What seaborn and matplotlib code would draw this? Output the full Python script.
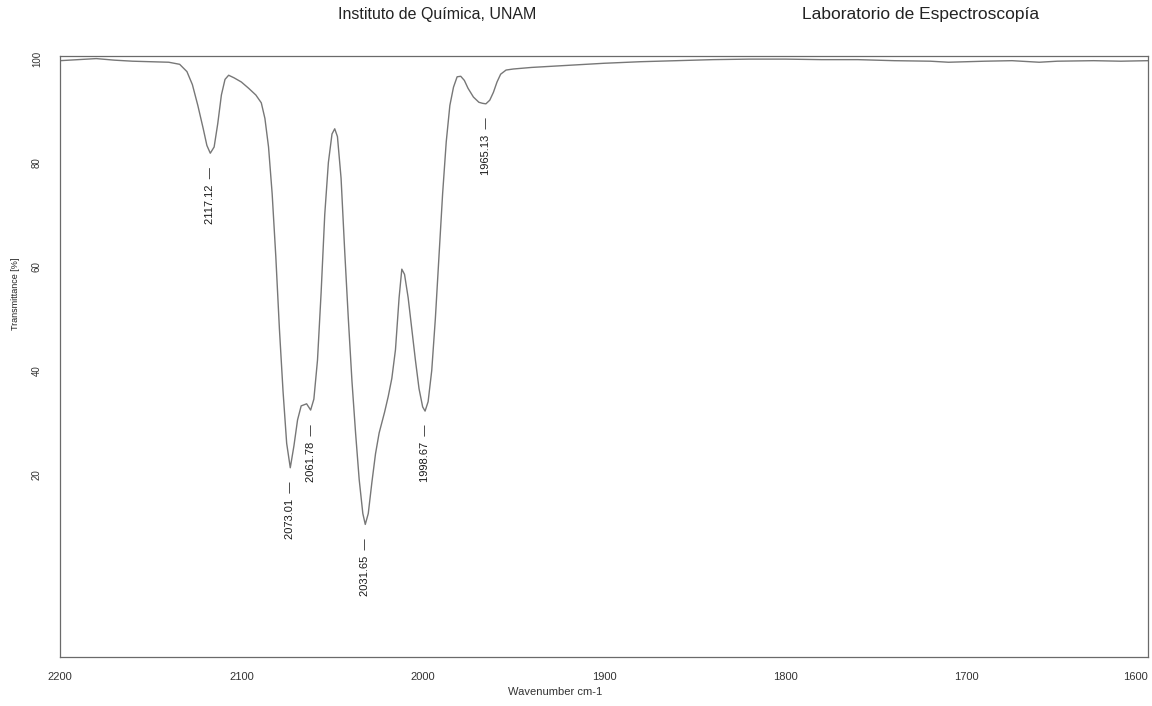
import matplotlib
matplotlib.use('Agg')
import matplotlib.pyplot as plt
import seaborn as sns
import pandas as pd

# IR spectrum (wavenumber cm-1, transmittance %)
wavenumber = [
    2200, 2190, 2180, 2170, 2160, 2150, 2140, 2134, 2130, 2127, 2124, 2121, 2119,
    2117.12, 2115, 2113, 2111, 2109, 2107, 2104, 2100, 2096, 2092, 2089, 2087,
    2085, 2083, 2081, 2079, 2077, 2075, 2073.01, 2071, 2069, 2067, 2064, 2061.78,
    2060, 2058, 2056, 2054, 2052, 2050, 2048.5, 2047, 2045, 2043, 2041, 2039,
    2037, 2035, 2033, 2031.65, 2030, 2028, 2026, 2024, 2021, 2019, 2017, 2015,
    2013, 2011.5, 2010, 2008, 2006, 2004, 2002, 2000, 1998.67, 1997, 1995, 1993,
    1991, 1989, 1987, 1985, 1983, 1981, 1979, 1977, 1975, 1972, 1969, 1967,
    1965.13, 1963, 1961, 1959, 1957, 1954, 1950, 1940, 1930, 1920, 1910, 1900,
    1880, 1860, 1840, 1820, 1800, 1780, 1760, 1740, 1720, 1710, 1700, 1690,
    1675, 1660, 1650, 1630, 1615, 1600,
]
transmittance = [
    99.6, 99.8, 100.0, 99.7, 99.5, 99.4, 99.3, 98.9, 97.5, 95.0, 91.0, 86.5, 83.3,
    81.8, 83.0, 87.5, 93.0, 96.0, 96.8, 96.3, 95.5, 94.3, 93.0, 91.5, 88.5,
    83.0, 74.0, 62.0, 48.0, 36.0, 26.0, 21.3, 25.5, 30.5, 33.2, 33.6, 32.4,
    34.5, 42.0, 55.0, 70.0, 80.0, 85.5, 86.5, 85.0, 77.0, 63.0, 50.0, 38.0,
    28.0, 19.0, 12.5, 10.4, 12.5, 18.5, 24.0, 28.0, 32.0, 35.0, 38.5, 44.0,
    54.0, 59.5, 58.5, 54.0, 48.0, 42.0, 36.5, 33.0, 32.2, 34.0, 40.0, 50.0,
    62.0, 74.0, 84.0, 91.0, 94.5, 96.5, 96.6, 95.8, 94.3, 92.6, 91.6, 91.4,
    91.3, 92.0, 93.5, 95.5, 97.0, 97.8, 98.0, 98.3, 98.5, 98.7, 98.9, 99.1,
    99.4, 99.6, 99.8, 99.9, 99.9, 99.8, 99.8, 99.6, 99.5, 99.3, 99.4, 99.5,
    99.6, 99.3, 99.5, 99.6, 99.5, 99.6,
]

# labelled peaks
peak_wavenumber = [2117.12, 2073.01, 2061.78, 2031.65, 1998.67, 1965.13]
peak_transmittance = [81.8, 21.3, 32.4, 10.4, 32.2, 91.3]
peak_labels = ["2117.12", "2073.01", "2061.78", "2031.65", "1998.67", "1965.13"]

x_ticks = [2200, 2100, 2000, 1900, 1800, 1700, 1600]
y_ticks = [20, 40, 60, 80, 100]

df = pd.DataFrame({'wavenumber': wavenumber, 'transmittance': transmittance})

sns.set_style('white')
plt.rcParams['font.family'] = ['Liberation Sans', 'DejaVu Sans']

fig = plt.figure(figsize=(11.52, 7.06), dpi=100)
ax = fig.add_axes([60 / 1152, 1 - 657 / 706, (1148 - 60) / 1152, (657 - 56) / 706])

sns.lineplot(data=df, x='wavenumber', y='transmittance', ax=ax,
             color='#777777', linewidth=1.0, sort=False)

# peak labels: rotated value with a short dash pointing at the minimum
for wn, t, lab in zip(peak_wavenumber, peak_transmittance, peak_labels):
    ax.annotate(lab + "  \u2014", xy=(wn, t), xytext=(0, -10), textcoords='offset points',
                rotation=90, ha='center', va='top', fontsize=8, color='#1a1a1a')

ax.set_xlim(2200, 1600)
ax.set_ylim(-15.1, 100.5)
ax.set_xticks(x_ticks)
ax.set_xticklabels([str(v) for v in x_ticks], fontsize=8, color='#333333')
ax.get_xticklabels()[-1].set_ha('right')
ax.set_yticks(y_ticks)
ax.set_yticklabels([str(v) for v in y_ticks], fontsize=7, rotation=90,
                   va='center', color='#333333')
ax.tick_params(axis='both', direction='out', length=4, width=0.8, color='#555555')
ax.tick_params(axis='x', pad=7)
ax.tick_params(axis='y', pad=9)
ax.set_xlabel('')
ax.set_ylabel('')
for s in ax.spines.values():
    s.set_visible(True)
    s.set_color('#6a6a6a')
    s.set_linewidth(0.9)

fig.text(555 / 1152, 1 - 692 / 706, 'Wavenumber cm-1', fontsize=8,
         ha='center', va='center', color='#333333')
fig.text(15 / 1152, 1 - 294 / 706, 'Transmittance [%]', fontsize=6.5,
         rotation=90, ha='center', va='center', color='#222222')
fig.text(437 / 1152, 1 - 15 / 706, 'Instituto de Química, UNAM', fontsize=11.5,
         ha='center', va='center', color='#222222')
fig.text(921 / 1152, 1 - 15 / 706, 'Laboratorio de Espectroscopía', fontsize=12.5,
         ha='center', va='center', color='#222222')

fig.savefig('out.png', dpi=100, facecolor='white')
